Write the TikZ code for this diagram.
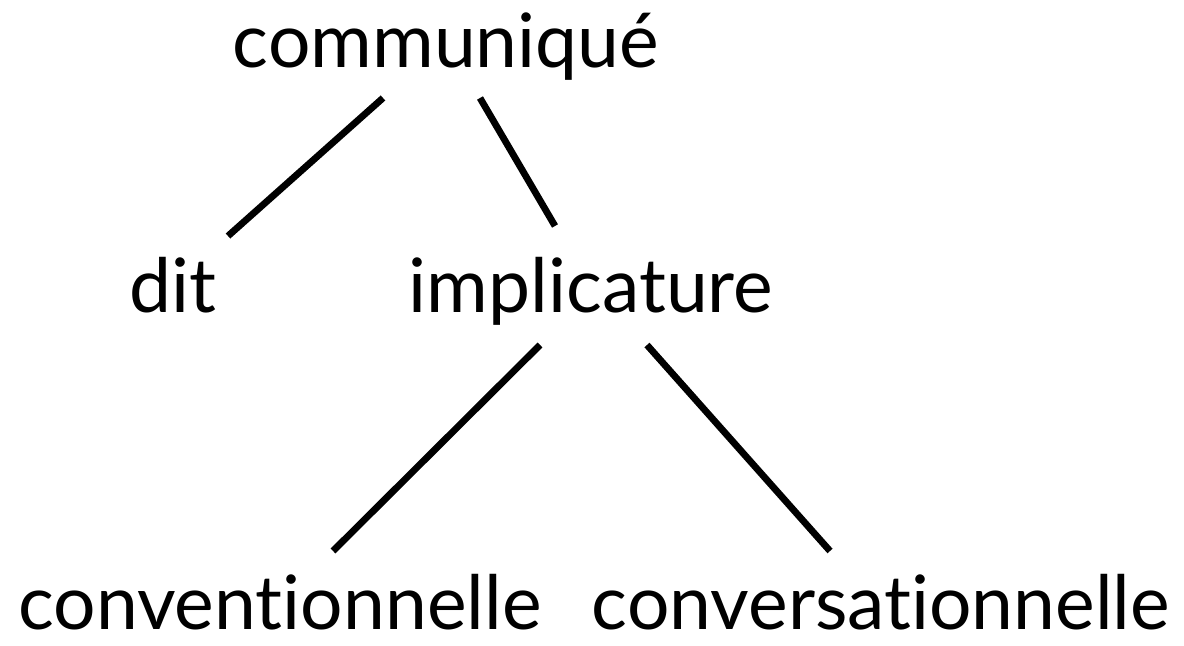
\documentclass[tikz,border=0pt]{standalone}
\usepackage{fontspec}
\setmainfont[Ligatures=NoCommon]{Lato}
\begin{document}
\begin{tikzpicture}[x=0.5pt,y=-0.5pt,
  lbl/.style={anchor=base,inner sep=0pt,font=\fontsize{37.5}{45}\selectfont},
  edge/.style={line width=3.4pt,line cap=butt}]
\useasboundingbox (0,0) rectangle (1184,646);
\node[lbl] (comm) at (446,68) {communiqué};
\node[lbl] (dit) at (173,313) {dit};
\node[lbl] (impl) at (591,313) {implicature};
\node[lbl] (conv) at (280,630) {conventionnelle};
\node[lbl] (cons) at (881,630) {conversationnelle};
\coordinate (a1) at (383,98); \coordinate (a2) at (228,236);
\coordinate (b1) at (480,98); \coordinate (b2) at (555,226);
\coordinate (c1) at (540,345); \coordinate (c2) at (333,551);
\coordinate (d1) at (647,345); \coordinate (d2) at (830,551);
\draw[edge] (a1) -- (a2);
\draw[edge] (b1) -- (b2);
\draw[edge] (c1) -- (c2);
\draw[edge] (d1) -- (d2);
\end{tikzpicture}
\end{document}
